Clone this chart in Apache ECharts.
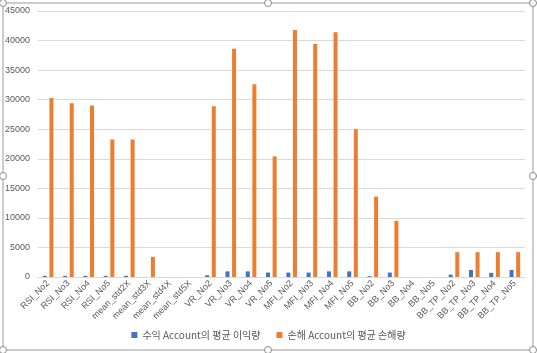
<!DOCTYPE html>
<html>
<head>
<meta charset="utf-8">
<script src="https://cdn.jsdelivr.net/npm/echarts@6/dist/echarts.min.js"></script>
<style>
  html, body { margin: 0; padding: 0; background: #fff; }
  #chart { width: 537px; height: 353px; }
</style>
</head>
<body>
<div id="chart"></div>
<script>
// 카테고리 / 시리즈 값
const categories = ['RSI_No2','RSI_No3','RSI_No4','RSI_No5','mean_std2X','mean_std3X','mean_std4X','mean_std5X',
  'VR_No2','VR_No3','VR_No4','VR_No5','MFI_No2','MFI_No3','MFI_No4','MFI_No5',
  'BB_No2','BB_No3','BB_No4','BB_No5','BB_TP_No2','BB_TP_No3','BB_TP_No4','BB_TP_No5'];
const profitName = '수익 Account의 평균 이익량';
const lossName = '손해 Account의 평균 손해량';
const profitValues = [200,200,200,200,200,0,0,0,300,950,950,750,750,750,950,950,150,750,0,0,400,1200,700,1200];
const lossValues = [30300,29400,29000,23250,23250,3400,0,0,28900,38600,32600,20400,41800,39400,41400,25000,13600,9500,0,0,4200,4200,4200,4200];
const yTicks = [0,5000,10000,15000,20000,25000,30000,35000,40000,45000];

const latin = '"Liberation Sans", "Noto Sans CJK KR", sans-serif';
const handleXs = [3, 268, 533];
const handleYs = [3, 176, 350];

// 선택 핸들 (엑셀 차트 영역 테두리)
let graphics = [{
  type: 'rect', silent: true, z: 100,
  shape: { x: 3, y: 3, width: 530, height: 347 },
  style: { fill: 'none', stroke: '#9a9a9a', lineWidth: 1 }
}];
handleXs.forEach((hx, i) => {
  handleYs.forEach((hy, j) => {
    if (i == 1 && j == 1) return;
    graphics.push({
      type: 'circle', silent: true, z: 101,
      shape: { cx: hx, cy: hy, r: 3.5 },
      style: { fill: '#fff', stroke: '#8a8a8a', lineWidth: 1 }
    });
  });
});

const chart = echarts.init(document.getElementById('chart'), null, { renderer: 'canvas' });
chart.setOption({
  animation: false,
  backgroundColor: '#fff',
  grid: { left: 38, right: 12, top: 11, bottom: 76, containLabel: false },
  legend: {
    bottom: 8,
    left: 'center',
    itemWidth: 6, itemHeight: 6, itemGap: 16,
    icon: 'rect',
    textStyle: { color: '#595959', fontSize: 10, fontFamily: '"Noto Sans CJK KR", sans-serif' },
    data: [profitName, lossName]
  },
  xAxis: {
    type: 'category',
    data: categories,
    axisLine: { show: true, lineStyle: { color: '#d9d9d9' } },
    axisTick: { show: false },
    axisLabel: { interval: 0, rotate: 45, color: '#595959', fontSize: 9, fontFamily: latin, margin: 5 }
  },
  yAxis: {
    type: 'value',
    min: yTicks[0], max: yTicks[yTicks.length - 1], interval: 5000,
    axisLine: { show: false },
    axisTick: { show: false },
    axisLabel: { color: '#595959', fontSize: 9, fontFamily: latin, margin: 8, formatter: (v) => String(v) },
    splitLine: { lineStyle: { color: '#d9d9d9' } }
  },
  series: [
    { name: profitName, type: 'bar', data: profitValues, barWidth: 4, barGap: '65%', itemStyle: { color: '#4472C4' } },
    { name: lossName, type: 'bar', data: lossValues, barWidth: 4, itemStyle: { color: '#ED7D31' } }
  ],
  graphic: graphics
});
</script>
</body>
</html>
